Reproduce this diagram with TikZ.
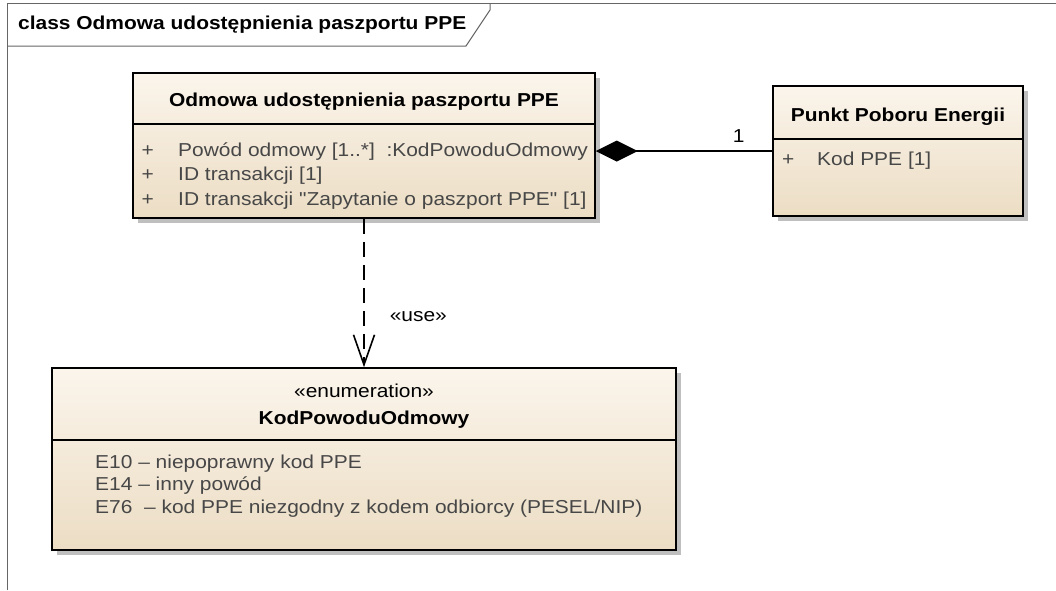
\documentclass[tikz,border=0pt]{standalone}
\usepackage{fontspec}
\setmainfont[FakeStretch=1.12,Ligatures=TeXOff]{Liberation Sans}
\usetikzlibrary{arrows.meta,shadows}
\definecolor{creme}{RGB}{251,245,236}
\definecolor{cremefonce}{RGB}{236,221,196}

\begin{document}
\begin{tikzpicture}[x=1pt,y=-1pt]
	% Styles
	\tikzstyle{cadre}=[black!60,line width=1pt]
	\tikzstyle{classe}=[rectangle,draw=black,line width=1.6pt,inner sep=0pt,top color=creme,bottom color=cremefonce,drop shadow={shadow xshift=5pt,shadow yshift=-5pt,fill=black!25,opacity=1}]
	\tikzstyle{separation}=[line width=1.6pt]
	\tikzstyle{titre}=[font=\fontsize{18.7}{22}\selectfont\bfseries,inner sep=0pt]
	\tikzstyle{texte}=[font=\fontsize{18.7}{22}\selectfont,inner sep=0pt]
	\tikzstyle{attribut}=[texte,text=black!72,anchor=base west]
	\tikzstyle{lien}=[line width=1.6pt]
	% Dimensions
	\def\ColPlus{141.5}
	\def\ColTexte{178}
	\def\LigneA{156}
	\def\LigneB{180.5}
	\def\LigneC{205}
	\useasboundingbox (0,0) rectangle (1056,590);
	% Cadre
	\draw[cadre] (7,590) -- (7,3) -- (1056,3);
	\draw[cadre] (7,46) -- (466,46) -- (490,10) -- (490,3);
	\node[titre,anchor=west] (cadre) at (18,25) {class Odmowa udostępnienia paszportu PPE};
	% Noeuds
	\node[classe,minimum width=462pt,minimum height=145pt] (Refus) at (364,145.5) {};
	\draw[separation] ([yshift=-52pt]Refus.north west) -- ([yshift=-52pt]Refus.north east);
	\node[titre] (RefusT) at (364,102) {Odmowa udostępnienia paszportu PPE};
	\node[attribut] (RefusPa) at (\ColPlus,\LigneA) {+};
	\node[attribut] (RefusA) at (\ColTexte,\LigneA) {Powód odmowy [1..*]\ \ :KodPowoduOdmowy};
	\node[attribut] (RefusPb) at (\ColPlus,\LigneB) {+};
	\node[attribut] (RefusB) at (\ColTexte,\LigneB) {ID transakcji [1]};
	\node[attribut] (RefusPc) at (\ColPlus,\LigneC) {+};
	\node[attribut] (RefusC) at (\ColTexte,\LigneC) {ID transakcji "Zapytanie o paszport PPE" [1]};
	%
	\node[classe,minimum width=250pt,minimum height=130pt] (PPE) at (898,151) {};
	\draw[separation] ([yshift=-54pt]PPE.north west) -- ([yshift=-54pt]PPE.north east);
	\node[titre] (PPET) at (898,117) {Punkt Poboru Energii};
	\node[attribut] (PPEPa) at (782,165.5) {+};
	\node[attribut] (PPEA) at (817,165.5) {Kod PPE [1]};
	%
	\node[classe,minimum width=624pt,minimum height=182pt] (Kod) at (364,459) {};
	\draw[separation] ([yshift=-73pt]Kod.north west) -- ([yshift=-73pt]Kod.north east);
	\node[texte] (KodS) at (364,391) {«enumeration»};
	\node[titre] (KodT) at (364,420) {KodPowoduOdmowy};
	\node[attribut] (KodA) at (95,468) {E10 – niepoprawny kod PPE};
	\node[attribut] (KodB) at (95,490.5) {E14 – inny powód};
	\node[attribut] (KodC) at (95,513) {E76\ \ – kod PPE niezgodny z kodem odbiorcy (PESEL/NIP)};
	% Arcs
	\draw[lien,-{Diamond[length=42pt,width=21pt]}] (PPE.west |- RefusA.west) -- (Refus.east |- RefusA.west) node[texte,pos=0.19,above=8pt]{1};
	\draw[lien,dash pattern=on 15pt off 8pt,-{Straight Barb[length=30pt,width=21pt]}] (Refus.south) -- (Kod.north) node[texte,pos=0.66,right=25pt]{«use»};
\end{tikzpicture}
\end{document}
